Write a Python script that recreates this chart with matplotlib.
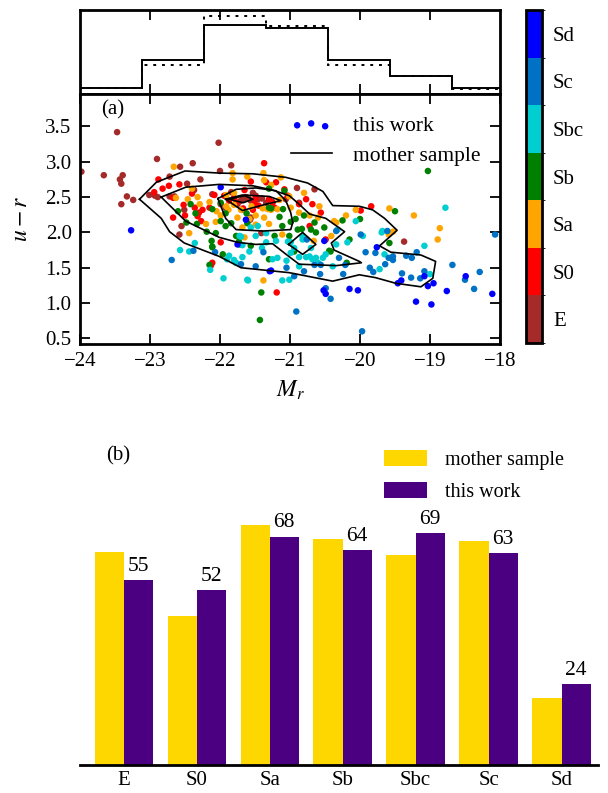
import numpy as np
import matplotlib
matplotlib.use("Agg")
import matplotlib.pyplot as plt
from matplotlib.colors import ListedColormap, BoundaryNorm

plt.rcParams["font.family"] = ["Liberation Serif", "DejaVu Serif"]
plt.rcParams["mathtext.fontset"] = "stix"
plt.rcParams["font.size"] = 15

# morphological types and their colours
types = ["E", "S0", "Sa", "Sb", "Sbc", "Sc", "Sd"]
type_colors = ["#a52a2a", "#ff0000", "#ffa500", "#008000", "#00ced1", "#0072c6", "#0000ff"]

# --- panel (a): M_r vs u-r for this work, by type ---
M_E = [-23.47, -22.02, -23.98, -23.66, -23.39, -23.43, -23.41, -23.33, -23.41, -23.24,
       -22.90, -22.39, -22.72, -22.00, -21.84, -22.93, -22.89, -22.72, -22.65, -22.37,
       -22.51, -22.11, -21.68, -21.63, -21.56, -21.46, -21.34, -21.25, -20.90, -20.65,
       -20.87, -19.37, -21.99, -21.92, -21.69, -21.56, -22.55, -22.58, -21.41, -21.57,
       -23.01, -21.49, -21.75, -21.84, -21.06, -22.47, -22.28, -22.57, -21.53, -21.65,
       -21.60, -21.72, -21.40]
ur_E = [3.42, 3.27, 2.86, 2.81, 2.81, 2.75, 2.69, 2.51, 2.40, 2.46,
        3.04, 2.98, 2.79, 2.87, 2.95, 2.52, 2.50, 2.51, 2.51, 2.60,
        2.32, 2.54, 2.47, 2.50, 2.45, 2.47, 2.42, 2.43, 2.63, 2.61,
        2.42, 1.87, 2.40, 2.35, 2.32, 2.21, 2.09, 1.97, 1.99, 2.18,
        2.53, 2.52, 2.40, 2.57, 2.47, 2.69, 2.75, 2.93, 2.56, 2.47,
        2.49, 2.44, 2.48]

M_S0 = [-21.37, -22.88, -22.73, -22.94, -22.67, -22.52, -22.67, -22.50, -22.30, -22.25,
        -22.08, -21.94, -22.15, -21.56, -21.34, -21.20, -21.08, -21.65, -21.51, -21.30,
        -21.03, -20.87, -20.68, -20.56, -19.84, -20.49, -22.11, -22.13, -21.19, -21.67,
        -21.87, -22.32, -22.27, -21.22, -21.99, -22.58, -20.77, -21.49, -21.25, -21.77,
        -21.53, -22.36, -19.99, -20.72, -22.82, -22.40, -21.45, -21.80]
ur_S0 = [2.98, 2.75, 2.66, 2.57, 2.49, 2.39, 2.21, 2.24, 2.28, 2.32,
         2.53, 2.52, 2.35, 2.72, 2.71, 2.71, 2.61, 2.60, 2.41, 2.47,
         2.52, 2.40, 2.40, 2.28, 2.37, 1.90, 1.57, 1.53, 1.15, 2.34,
         2.45, 2.23, 2.16, 2.35, 1.86, 2.68, 2.47, 2.49, 2.42, 2.42,
         2.32, 2.35, 2.31, 2.09, 2.62, 2.55, 2.38, 2.49]

M_Sa = [-22.66, -21.82, -21.38, -21.13, -21.82, -22.63, -22.46, -22.32, -22.29, -22.15,
        -22.44, -22.20, -21.99, -21.88, -21.80, -21.75, -21.58, -21.49, -21.37, -21.32,
        -21.18, -21.30, -20.99, -20.87, -20.72, -20.60, -20.34, -20.20, -19.58, -19.23,
        -18.86, -18.89, -20.41, -21.38, -21.91, -22.06, -21.65, -21.68, -21.61, -21.37,
        -21.27, -20.80, -21.01, -20.58, -20.06, -21.80, -21.70, -21.39, -21.27, -21.15,
        -21.91, -19.59, -19.53, -21.49, -21.11, -20.66, -20.37, -22.40, -22.05, -21.55]
ur_Sa = [2.93, 2.84, 2.84, 2.78, 2.75, 2.49, 2.47, 2.50, 2.40, 2.43,
         1.99, 2.12, 2.24, 2.32, 2.39, 2.21, 2.19, 2.24, 2.21, 2.33,
         2.33, 2.12, 2.35, 2.28, 2.24, 2.21, 2.14, 2.24, 2.34, 2.24,
         2.06, 1.90, 1.95, 1.32, 2.53, 2.15, 1.93, 2.07, 2.79, 2.74,
         2.67, 2.56, 2.51, 2.37, 2.32, 2.56, 2.32, 2.34, 2.32, 2.46,
         2.37, 1.97, 2.01, 2.11, 1.97, 1.88, 2.16, 2.62, 2.30, 2.37]

M_Sb = [-19.03, -21.30, -21.08, -22.35, -22.11, -21.99, -22.19, -21.92, -21.61, -21.30,
        -21.22, -20.92, -20.83, -20.63, -20.51, -20.65, -20.80, -20.25, -20.00, -19.58,
        -20.44, -20.19, -21.30, -22.15, -22.11, -21.96, -21.77, -21.72, -21.56, -21.41,
        -21.43, -21.11, -21.01, -22.48, -21.84, -22.33, -22.06, -22.12, -22.11, -22.60,
        -21.99, -21.27, -21.10, -19.50, -21.92, -20.99, -20.89, -20.70, -20.42, -20.15,
        -20.94, -21.73, -22.42, -21.62, -21.15]
ur_Sb = [2.87, 2.62, 2.59, 2.27, 2.33, 2.16, 2.01, 2.27, 2.13, 2.35,
         1.95, 2.19, 2.05, 2.00, 2.07, 2.14, 2.24, 2.17, 2.19, 1.85,
         1.74, 1.57, 1.62, 1.54, 1.80, 1.69, 1.95, 1.83, 1.81, 1.15,
         0.76, 2.09, 1.95, 2.14, 2.13, 2.12, 1.99, 1.88, 1.79, 2.30,
         2.42, 2.34, 2.33, 2.30, 2.09, 2.15, 2.04, 2.04, 1.73, 1.90,
         1.73, 1.87, 2.40, 2.27, 2.22]

M_Sbc = [-22.36, -22.57, -21.95, -21.60, -21.72, -21.68, -21.46, -21.49, -21.34, -21.20,
         -20.99, -20.82, -20.99, -20.87, -20.77, -20.68, -20.60, -20.49, -20.34, -20.18,
         -20.06, -19.96, -19.68, -19.65, -19.08, -18.78, -21.11, -21.25, -21.77, -21.68,
         -21.87, -21.80, -21.70, -21.61, -21.58, -21.56, -21.34, -21.18, -21.03, -21.01,
         -20.94, -20.87, -20.82, -20.72, -20.63, -20.53, -20.39, -20.32, -22.44, -22.14,
         -19.69, -19.72, -19.00, -21.90, -21.40, -21.05, -20.70]
ur_Sbc = [1.85, 1.75, 1.35, 1.32, 1.95, 1.82, 2.09, 1.95, 1.86, 1.88,
          1.86, 1.90, 1.71, 1.65, 1.65, 1.62, 1.57, 1.69, 1.83, 1.86,
          2.16, 1.95, 2.02, 1.69, 1.81, 2.35, 1.32, 1.62, 1.57, 1.65,
          1.67, 1.61, 1.94, 1.33, 1.73, 2.07, 1.99, 1.64, 1.87, 1.33,
          1.78, 1.52, 1.94, 1.66, 1.64, 1.64, 1.52, 2.04, 1.73, 1.47,
          2.00, 1.48, 1.41, 1.62, 1.78, 1.60, 1.78]

M_Sc = [-19.99, -19.92, -19.78, -19.61, -19.64, -19.59, -19.53, -19.53, -19.34, -19.26,
        -19.19, -19.40, -19.27, -19.14, -19.08, -18.68, -18.37, -18.29, -18.50, -18.07,
        -19.86, -19.81, -19.97, -21.38, -21.49, -21.70, -20.94, -20.65, -20.56, -20.57,
        -20.91, -20.49, -20.42, -20.34, -20.30, -20.21, -20.24, -20.76, -22.69, -22.38,
        -22.07, -21.05, -20.80]
ur_Sc = [1.97, 1.72, 1.71, 2.02, 1.55, 1.64, 1.66, 1.61, 1.67, 1.64,
         1.72, 1.42, 1.36, 1.35, 1.45, 1.54, 1.20, 1.44, 1.33, 1.97,
         1.50, 1.44, 0.60, 1.72, 1.52, 1.55, 1.38, 1.54, 1.54, 1.41,
         0.88, 1.21, 1.06, 2.02, 1.64, 1.54, 1.41, 1.90, 1.61, 1.74,
         1.72, 1.50, 1.45]

M_Sd = [-23.27, -21.99, -21.63, -21.27, -20.49, -20.52, -20.15, -20.03, -20.51, -21.75,
        -21.29, -19.76, -19.46, -19.41, -19.08, -19.03, -18.95, -18.76, -19.20, -18.98,
        -18.49, -18.11]
ur_Sd = [2.03, 2.64, 2.18, 1.46, 1.13, 1.18, 1.20, 1.18, 1.88, 1.83,
         1.45, 1.79, 1.28, 1.32, 1.38, 1.24, 1.28, 1.17, 1.02, 0.98,
         1.38, 1.13]

# mother sample density contours (M_r, u-r vertices)
cont1_M = [-23.15, -22.91, -22.50, -22.01, -21.53, -21.06, -20.75, -20.53, -20.39, -20.01,
           -19.82, -19.65, -19.47, -19.72, -19.56, -19.13, -18.92, -18.96, -19.13, -19.49,
           -19.78, -20.01, -20.39, -21.01, -21.70, -22.01, -22.51, -22.72, -22.84, -23.15]
cont1_ur = [2.47, 2.71, 2.87, 2.84, 2.83, 2.78, 2.70, 2.58, 2.38, 2.37,
            2.32, 2.20, 2.03, 1.81, 1.72, 1.68, 1.59, 1.35, 1.23, 1.28,
            1.36, 1.40, 1.31, 1.43, 1.50, 1.66, 1.85, 2.01, 2.20, 2.47]
cont2_M = [-22.84, -22.49, -22.01, -21.53, -21.25, -21.01, -20.87, -20.72, -20.49, -20.22,
           -20.41, -20.37, -20.01, -19.98, -20.34, -20.87, -21.03, -21.25, -21.49, -21.75,
           -22.01, -22.49, -22.84]
cont2_ur = [2.50, 2.64, 2.68, 2.66, 2.60, 2.52, 2.40, 2.26, 2.20, 2.01,
            1.85, 1.75, 1.59, 1.57, 1.53, 1.55, 1.67, 1.84, 1.83, 1.86,
            1.93, 2.16, 2.50]
cont3_M = [-22.03, -21.77, -21.49, -21.20, -21.06, -20.99, -20.96, -20.99, -21.39, -21.77,
           -21.92, -22.03]
cont3_ur = [2.48, 2.61, 2.63, 2.59, 2.45, 2.28, 2.14, 2.04, 2.02, 2.04,
            2.20, 2.48]
cont4_M = [-21.92, -21.68, -21.30, -21.13, -21.34, -21.68, -21.92]
cont4_ur = [2.47, 2.53, 2.51, 2.45, 2.40, 2.31, 2.47]
cont5_M = [-21.87, -21.65, -21.53, -21.67, -21.87]
cont5_ur = [2.47, 2.52, 2.47, 2.42, 2.47]
cont6_M = [-21.02, -20.82, -20.63, -20.82, -21.02]
cont6_ur = [1.83, 2.00, 1.83, 1.69, 1.83]
contours = [(cont1_M, cont1_ur), (cont2_M, cont2_ur), (cont3_M, cont3_ur),
            (cont4_M, cont4_ur), (cont5_M, cont5_ur), (cont6_M, cont6_ur)]

# top histogram (normalised counts per M_r bin)
hist_edges = [-24.0, -23.12, -22.23, -21.35, -20.46, -19.57, -18.68, -17.8]
hist_this = [0.068, 0.405, 0.82, 0.78, 0.405, 0.22, 0.068]
hist_mother = [0.075, 0.345, 0.93, 0.81, 0.35, 0.215, 0.056]

# --- panel (b): numbers per type ---
n_this = [55, 52, 68, 64, 69, 63, 24]
n_mother = [63.3, 44.3, 71.4, 67.3, 62.5, 66.7, 19.9]

W, H = 608, 793
fig = plt.figure(figsize=(W / 100, H / 100), dpi=100)


def box(x0, y0, x1, y1):
    return [x0 / W, 1 - y1 / H, (x1 - x0) / W, (y1 - y0) / H]


ax_h = fig.add_axes(box(80, 10, 500, 94))
ax_s = fig.add_axes(box(80, 94, 500, 344))
cax = fig.add_axes(box(526, 10, 542, 343))
ax_b = fig.add_axes(box(80, 429, 598, 765))

for a in (ax_h, ax_s):
    for sp in a.spines.values():
        sp.set_linewidth(2)
    a.set_xlim(-24, -18)

# histogram
ax_h.stairs(hist_this, hist_edges, baseline=None, color="k", lw=1.4)
ax_h.stairs(hist_mother, hist_edges, baseline=None, color="k", lw=1.4, ls=(0, (1.5, 3)))
ax_h.set_ylim(0, 1)
ax_h.set_yticks([])
ax_h.set_xticks([-23, -22, -21, -20, -19])
ax_h.tick_params(axis="x", direction="in", top=True, bottom=True, labelbottom=False,
                 length=7, width=1.3)

# scatter
cmap = ListedColormap(type_colors)
norm = BoundaryNorm(np.arange(-0.5, 7.5, 1), cmap.N)
groups = [(M_E, ur_E), (M_S0, ur_S0), (M_Sa, ur_Sa), (M_Sb, ur_Sb),
          (M_Sbc, ur_Sbc), (M_Sc, ur_Sc), (M_Sd, ur_Sd)]
xs, ys, cs = [], [], []
for i, (m, u) in enumerate(groups):
    xs += m
    ys += u
    cs += [i] * len(m)
sc = ax_s.scatter(xs, ys, c=cs, cmap=cmap, norm=norm, s=22, linewidths=0, zorder=2)
for k, (m, u) in enumerate(contours):
    ax_s.plot(m, u, color="k", lw=1.2, zorder=3,
              label="mother sample" if k == 0 else None)
ax_s.scatter([], [], s=22, color="blue", linewidths=0, label="this work")
handles, labels = ax_s.get_legend_handles_labels()
ax_s.legend(handles[::-1], labels[::-1], loc="upper right", bbox_to_anchor=(1.0, 0.99),
            frameon=False, fontsize=15.5, scatterpoints=3, handlelength=1.9,
            handletextpad=1.0, labelspacing=0.45)

ax_s.set_ylim(0.42, 3.96)
ax_s.set_xticks([-24, -23, -22, -21, -20, -19, -18])
ax_s.set_xticklabels(["\u221224", "\u221223", "\u221222", "\u221221", "\u221220", "\u221219", "\u221218"])
ax_s.set_yticks([0.5, 1.0, 1.5, 2.0, 2.5, 3.0, 3.5])
ax_s.tick_params(direction="in", top=True, right=True, length=7, width=1.3,
                 labelsize=15, pad=6)
ax_s.set_xlabel("$M_r$", fontsize=17, labelpad=5)
ax_s.set_ylabel("$u-r$", fontsize=17, labelpad=10)
ax_s.text(0.05, 0.936, "(a)", transform=ax_s.transAxes, fontsize=15, va="center")

# colorbar
cb = fig.colorbar(sc, cax=cax, ticks=range(7))
cb.ax.set_yticklabels(types)
cb.ax.tick_params(length=0, labelsize=15, pad=8)
cb.outline.set_linewidth(2)

# bars
x = np.arange(len(types))
ax_b.bar(x - 0.2, n_mother, width=0.4, color="#ffd700", label="mother sample")
ax_b.bar(x + 0.2, n_this, width=0.4, color="#4b0082", label="this work")
for xi, n in zip(x, n_this):
    ax_b.text(xi + 0.2, n + 1.2, str(n), ha="center", va="bottom", fontsize=15.5)
ax_b.set_xlim(-0.6, 6.5)
ax_b.set_ylim(0, 100)
ax_b.set_xticks(x)
ax_b.set_xticklabels(types)
ax_b.set_yticks([])
for side in ("top", "left", "right"):
    ax_b.spines[side].set_visible(False)
ax_b.spines["bottom"].set_linewidth(2)
ax_b.tick_params(axis="x", length=0, labelsize=15, pad=4)
ax_b.text(0.05, 0.92, "(b)", transform=ax_b.transAxes, fontsize=15, va="center")
ax_b.legend(loc="upper right", bbox_to_anchor=(0.969, 0.99), frameon=False, fontsize=14.5,
            handlelength=2.1, handleheight=0.8, handletextpad=0.9, labelspacing=0.6)

fig.savefig("out.png", dpi=100)
